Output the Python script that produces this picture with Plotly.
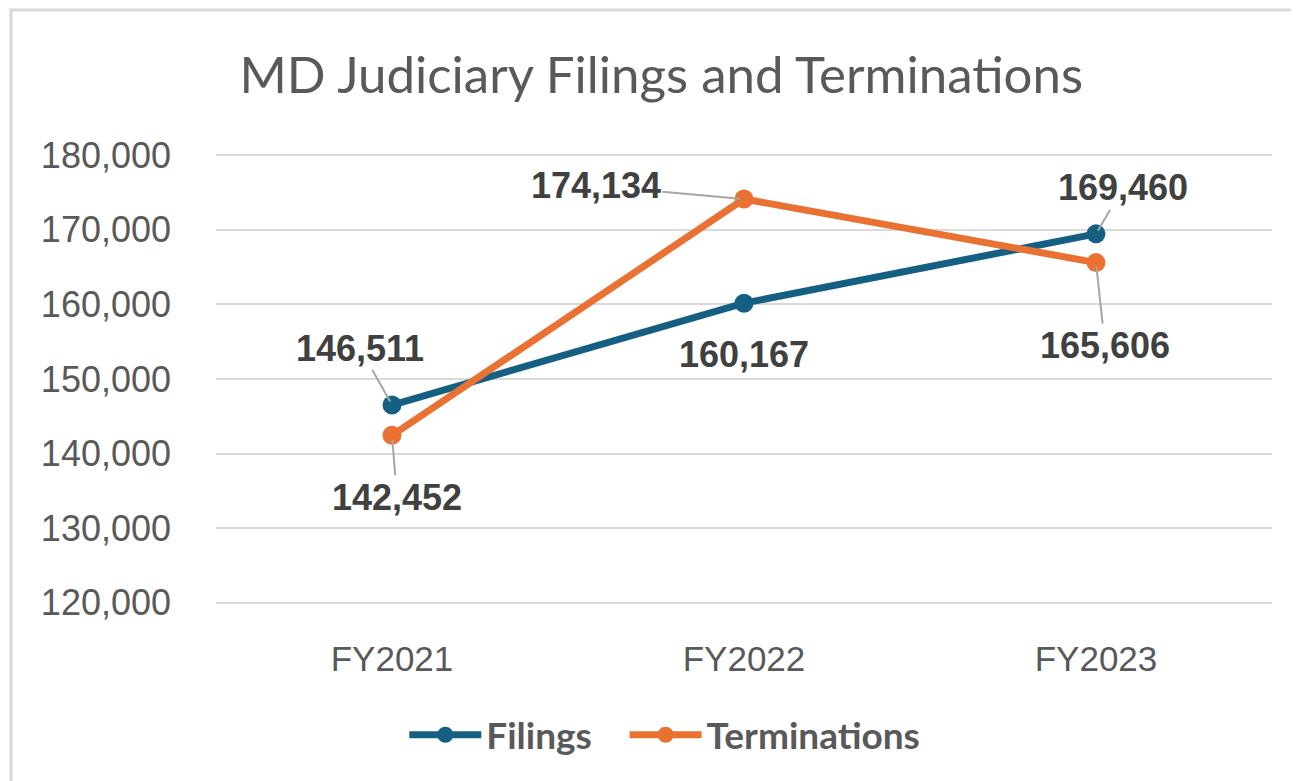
import plotly.graph_objects as go

categories = ["FY2021", "FY2022", "FY2023"]
filings = [146511, 160167, 169460]
terminations = [142452, 174134, 165606]
y_ticks = [120000, 130000, 140000, 150000, 160000, 170000, 180000]

C_FIL = "#156082"
C_TER = "#E97132"
TXT = "#595959"
LBL = "#404040"

xi = list(range(len(categories)))

fig = go.Figure()
fig.add_trace(go.Scatter(x=xi, y=filings, name="Filings\u2003", mode="lines+markers",
                         line=dict(color=C_FIL, width=7), marker=dict(size=19, color=C_FIL)))
fig.add_trace(go.Scatter(x=xi, y=terminations, name="Terminations", mode="lines+markers",
                         line=dict(color=C_TER, width=7), marker=dict(size=19, color=C_TER)))

# label offsets (pixels) per series/category
fil_off = [(-32, -57, True), (0, 51, False), (27, -46, True)]
ter_off = [(5, 62, True), (-148, -13, True), (9, 83, True)]

annotations = []
for series, offs in ((filings, fil_off), (terminations, ter_off)):
    for i, (v, (ax, ay, arrow)) in enumerate(zip(series, offs)):
        annotations.append(dict(
            x=xi[i], y=v, xref="x", yref="y", text=f"<b>{v:,}</b>",
            showarrow=True, ax=ax, ay=ay, axref="pixel", ayref="pixel",
            arrowhead=0, arrowwidth=2,
            arrowcolor="#A6A6A6" if arrow else "rgba(0,0,0,0)",
            standoff=4,
            font=dict(family="Liberation Sans, Arial", size=36, color=LBL),
        ))

W, H = 1291, 773
L, R, T, B = 208, 27, 145, 176

fig.update_layout(
    width=W, height=H, autosize=False,
    margin=dict(l=L, r=R, t=T, b=B, pad=0),
    paper_bgcolor="white", plot_bgcolor="white",
    title=dict(text="MD Judiciary Filings and Terminations",
               x=0.506, xanchor="center", y=0.913, yanchor="middle",
               font=dict(family="Lato", size=51, color=TXT)),
    xaxis=dict(range=[-0.5, 2.5], tickmode="array", tickvals=xi, ticktext=categories,
               showgrid=False, zeroline=False, showline=False,
               tickfont=dict(family="Liberation Sans, Arial", size=35, color=TXT),
               ticks="", ticklabelstandoff=30),
    yaxis=dict(range=[119700, 180300], tickmode="array", tickvals=y_ticks,
               tickformat=",d", showgrid=True, gridcolor="#D9D9D9", gridwidth=2,
               zeroline=False, showline=False, ticks="",
               tickfont=dict(family="Liberation Sans, Arial", size=36, color=TXT),
               ticklabelstandoff=44),
    legend=dict(orientation="h", x=0.425, xanchor="center", y=-0.288, yanchor="middle",
                font=dict(family="Lato", size=37, color=TXT, weight="bold"),
                itemwidth=72, tracegroupgap=0),
    annotations=annotations,
    shapes=[dict(type="rect", xref="paper", yref="paper",
                 x0=(3 - L) / 1056, x1=(1320 - L) / 1056,
                 y0=(597 - 800) / 452, y1=(597 - 2) / 452,
                 line=dict(color="#D9D9D9", width=3), fillcolor="rgba(0,0,0,0)",
                 layer="below")],
)

fig.write_html("out.html")
